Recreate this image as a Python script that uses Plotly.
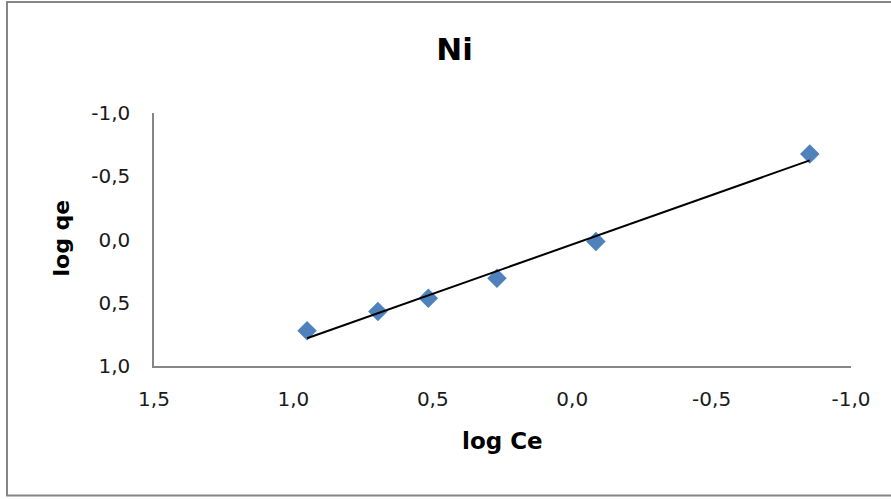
import numpy as np
import plotly.graph_objects as go

# Data (Freundlich isotherm, Ni)
log_ce = [0.951, 0.697, 0.516, 0.270, -0.085, -0.852]
log_qe = [0.721, 0.570, 0.464, 0.306, 0.016, -0.675]

x_ticks = [1.5, 1.0, 0.5, 0.0, -0.5, -1.0]
x_tick_text = ["1,5", "1,0", "0,5", "0,0", "-0,5", "-1,0"]
y_ticks = [-1.0, -0.5, 0.0, 0.5, 1.0]
y_tick_text = ["-1,0", "-0,5", "0,0", "0,5", "1,0"]

# linear trendline through the data
slope, intercept = np.polyfit(log_ce, log_qe, 1)
trend_x = [max(log_ce), min(log_ce)]
trend_y = [slope * v + intercept for v in trend_x]

W, H = 891, 499
L, R, T, B = 154, 40, 113, 133
pw, ph = W - L - R, H - T - B

def px_to_paper_x(px):
    return (px - L) / pw

def px_to_paper_y(py):
    return (H - B - py) / ph

FONT = "DejaVu Sans, Liberation Sans, Arial, sans-serif"

fig = go.Figure()
fig.add_trace(go.Scatter(
    x=log_ce, y=log_qe, mode="markers",
    marker=dict(symbol="diamond", size=15, color="#4F81BD",
                line=dict(width=0)),
    showlegend=False, hoverinfo="x+y",
))
fig.add_trace(go.Scatter(
    x=trend_x, y=trend_y, mode="lines",
    line=dict(color="black", width=2),
    showlegend=False, hoverinfo="skip",
))

tick_font = dict(family=FONT, size=20, color="#1a1a1a")
axis_common = dict(
    showgrid=False, zeroline=False, showline=True, linecolor="#868686",
    linewidth=1.5, ticks="", tickfont=tick_font,
)

fig.update_layout(
    width=W, height=H,
    margin=dict(l=L, r=R, t=T, b=B, pad=0),
    paper_bgcolor="white", plot_bgcolor="white",
    title=dict(
        text="<b>Ni</b>",
        font=dict(family=FONT, size=31, color="black"),
        x=px_to_paper_x(454.5), xref="paper", xanchor="center",
        y=1 - 49 / H, yref="container", yanchor="middle",
    ),
    xaxis=dict(range=[1.5, -1.0], tickvals=x_ticks, ticktext=x_tick_text,
               ticklabelstandoff=14, **axis_common),
    yaxis=dict(range=[1.0, -1.0], tickvals=y_ticks, ticktext=y_tick_text,
               ticklabelstandoff=18, **axis_common),
    annotations=[
        dict(text="<b>log Ce</b>", xref="paper", yref="paper",
             x=px_to_paper_x(502), y=px_to_paper_y(441),
             xanchor="center", yanchor="middle", showarrow=False,
             font=dict(family=FONT, size=23, color="black")),
        dict(text="<b>log qe</b>", xref="paper", yref="paper",
             x=px_to_paper_x(61), y=px_to_paper_y(238.5), textangle=-90,
             xanchor="center", yanchor="middle", showarrow=False,
             font=dict(family=FONT, size=22, color="black")),
    ],
    shapes=[
        dict(type="rect", xref="paper", yref="paper",
             x0=px_to_paper_x(7), x1=px_to_paper_x(896),
             y0=px_to_paper_y(495.5), y1=px_to_paper_y(2),
             line=dict(color="#868686", width=2), fillcolor="rgba(0,0,0,0)",
             layer="below"),
    ],
)

fig.write_html("out.html")
